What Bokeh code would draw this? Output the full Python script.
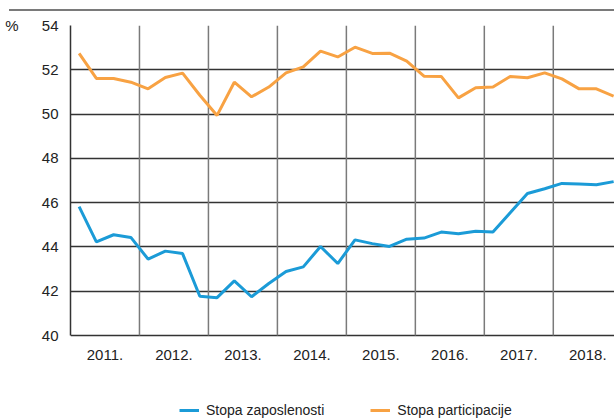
from bokeh.plotting import figure
from bokeh.models import Div, Legend, LegendItem, FixedTicker, Range1d, LinearAxis
from bokeh.core.properties import value
from bokeh.layouts import column
from bokeh.embed import file_html
from bokeh.resources import INLINE

years = ["2011.", "2012.", "2013.", "2014.", "2015.", "2016.", "2017.", "2018."]
quarter_index = list(range(32))
employment = [45.82, 44.23, 44.55, 44.43, 43.45, 43.81, 43.70, 41.77,
              41.71, 42.47, 41.75, 42.35, 42.89, 43.10, 44.02, 43.25,
              44.32, 44.15, 44.02, 44.35, 44.40, 44.67, 44.60, 44.71,
              44.67, 45.54, 46.41, 46.63, 46.87, 46.84, 46.81, 46.95]
participation = [52.74, 51.61, 51.61, 51.44, 51.14, 51.65, 51.85, 50.85,
                 49.94, 51.44, 50.78, 51.22, 51.86, 52.13, 52.84, 52.58,
                 53.02, 52.74, 52.75, 52.39, 51.71, 51.70, 50.73, 51.19,
                 51.22, 51.70, 51.64, 51.86, 51.59, 51.14, 51.14, 50.81]
y_ticks = [40, 42, 44, 46, 48, 50, 52, 54]
unit_label = "%"
labels = ["Stopa zaposlenosti", "Stopa participacije"]

FONT = "Liberation Sans"
BLUE = "#1b9bd7"
ORANGE = "#f8a243"
TXT = "#222222"

y_min, y_max = y_ticks[0], y_ticks[-1]
year_centers = [4 * k + 1.5 for k in range(len(years))]
year_bounds = [4 * k - 0.5 for k in range(1, len(years))]
px_per_unit = 310 / (y_max - y_min)
y_bottom = y_min - 84 / px_per_unit
label_y = y_min - 19 / px_per_unit

p = figure(output_backend="svg", toolbar_location=None,
           frame_width=544, frame_height=394,
           min_border_left=70, min_border_right=0, min_border_top=14,
           min_border_bottom=0, x_axis_location=None,
           x_range=Range1d(-0.5, 31.05), y_range=Range1d(y_bottom, y_max))
p.background_fill_color = "white"
p.border_fill_color = "white"
p.outline_line_color = None

p.xgrid.visible = False
p.ygrid.ticker = FixedTicker(ticks=y_ticks)
p.ygrid.grid_line_color = "#333333"
p.ygrid.grid_line_width = 1.5

# year separators, spanning the value range only
p.segment(x0=year_bounds, y0=[y_min] * len(year_bounds),
          x1=year_bounds, y1=[y_max] * len(year_bounds),
          line_color="#7a7a7a", line_width=1.5)

r1 = p.line(quarter_index, employment, line_color=BLUE, line_width=3)
r2 = p.line(quarter_index, participation, line_color=ORANGE, line_width=3)

# year labels under the value range
p.text(x=year_centers, y=[label_y] * len(years), text=years,
       text_font=value(FONT), text_font_size="15px", text_color=TXT,
       text_align="center", text_baseline="middle")

ax = p.yaxis[0]
ax.ticker = FixedTicker(ticks=y_ticks)
ax.bounds = (y_min, y_max)
ax.major_tick_line_color = None
ax.major_tick_out = 0
ax.major_tick_in = 0
ax.minor_tick_line_color = None
ax.minor_tick_out = 0
ax.axis_line_color = "#333333"
ax.axis_line_width = 1.5
ax.major_label_text_font = FONT
ax.major_label_text_font_size = "15px"
ax.major_label_text_color = TXT
ax.major_label_standoff = 12

unit_axis = LinearAxis(ticker=FixedTicker(ticks=[y_max]),
                       major_label_overrides={y_max: unit_label},
                       axis_line_color=None, major_tick_line_color=None,
                       major_tick_out=0, major_tick_in=0,
                       minor_tick_line_color=None, minor_tick_out=0,
                       major_label_standoff=20,
                       major_label_text_font=FONT,
                       major_label_text_font_size="15px",
                       major_label_text_color=TXT)
p.add_layout(unit_axis, "left")

legend = Legend(items=[LegendItem(label=labels[0], renderers=[r1]),
                       LegendItem(label=labels[1], renderers=[r2])],
                orientation="horizontal", location=(109, 0),
                label_text_font=FONT, label_text_font_size="14px",
                label_text_color=TXT, glyph_width=20, glyph_height=18,
                label_height=18, label_standoff=7,
                spacing=46, padding=0, margin=0, border_line_color=None,
                background_fill_alpha=0)
p.add_layout(legend, "center")

rule = Div(text="", width=605, height=2, margin=(9, 0, 0, 9),
           styles={"background-color": "#7a7a7a"})

layout = column(rule, p, spacing=0)
open("out.html", "w").write(file_html(layout, INLINE))
